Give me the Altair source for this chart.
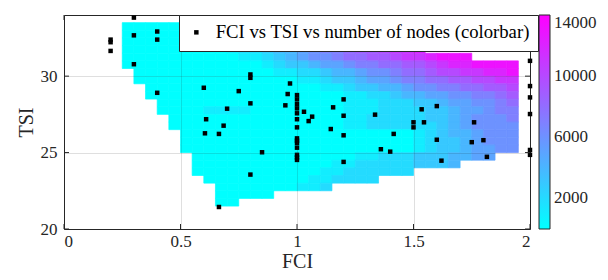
import altair as alt
import pandas as pd

FONT = "Liberation Serif"
AX = "#262626"

# ---- scatter data (FCI, TSI) ----
fci_pts = [0.30, 0.20, 0.20, 0.20, 0.30, 0.40, 0.40, 0.30, 0.40, 0.60, 0.75, 0.80, 0.80, 0.80,
           0.70, 0.61, 0.685, 0.605, 0.665, 0.85, 0.80, 0.665, 0.97, 0.96, 0.95,
           1.0, 1.0, 1.0, 1.0, 1.0, 1.0, 1.0, 1.0, 1.0, 1.0, 1.0, 1.0, 1.0, 1.0,
           1.03, 1.05, 1.065, 1.20, 1.155, 1.20, 1.335, 1.145, 1.20, 1.415, 1.36, 1.40,
           1.20, 1.50, 1.50, 1.545, 1.535, 1.60, 1.60, 1.62, 1.76, 1.75, 1.80, 1.815,
           2.0, 2.0, 2.0, 2.0, 2.0, 2.0]
tsi_pts = [33.83, 32.39, 32.22, 31.65, 32.67, 32.92, 32.39, 30.78, 28.91, 29.24, 29.02, 30.11, 29.89, 28.22,
           27.87, 27.18, 26.76, 26.26, 26.22, 25.02, 23.56, 21.44, 29.52, 28.83, 28.09,
           28.76, 28.48, 28.17, 27.89, 27.57, 27.18, 26.65, 25.93, 25.78, 25.63, 25.32, 24.85, 24.68, 24.52,
           27.67, 27.06, 27.35, 28.48, 27.96, 27.41, 27.48, 26.54, 26.13, 26.22, 25.22, 25.06,
           24.39, 26.98, 26.65, 26.98, 27.83, 28.04, 25.84, 24.47, 26.98, 25.68, 25.81, 24.72,
           31.0, 29.35, 28.61, 27.52, 25.17, 24.85]
series_name = "FCI vs TSI vs number of nodes (colorbar)"

# ---- filled contour: band index (thousands of nodes) per cell ----
# columns: FCI cells of 0.05 starting at 0; rows: TSI cells of 0.5 (lower edge given)
cell_w = 0.05
cell_h = 0.5
grid_tsi_low = [33.0, 32.5, 32.0, 31.5, 31.0, 30.5, 30.0, 29.5, 29.0, 28.5, 28.0, 27.5,
                27.0, 26.5, 26.0, 25.5, 25.0, 24.5, 24.0, 23.5, 23.0, 22.5, 22.0, 21.5]
grid_rows = [
    ".....00000..............................",
    ".....00000..............................",
    ".....00000..............................",
    ".....0000000001223445677899abbc.........",
    ".....00000000001123456678899abbcddd.....",
    ".....00000000000012334556778899abccdddd.",
    "......00000000000011223445667889aabbccd.",
    "......00000000000000112334556778899aabb.",
    ".......0000000000000001123344566778899a.",
    ".......00000000000000000112234455667789.",
    "........0000000000000000111222334556678.",
    "........0000111100000000111222233455677.",
    ".........000000000000000112222233456667.",
    ".........000000000000000112222223456666.",
    "..........00000000000000000000123445666.",
    "..........00000000000000000000123345666.",
    "..........00000000000000000000123345566.",
    "...........00000000000000112223334455...",
    "...........00000000000011222223334......",
    "...........0000000000011222222..........",
    "............000000000112222.............",
    ".............0000000112.................",
    ".............00000......................",
    ".............00.........................",
]
band_chars = "0123456789abcd"

x_ticks = [0, 0.5, 1, 1.5, 2]
y_ticks = [20, 25, 30]
cbar_ticks = [2000, 6000, 10000, 14000]

W, H = 466, 214

cells = []
for tlow, row in zip(grid_tsi_low, grid_rows):
    for j, ch in enumerate(row):
        if ch == ".":
            continue
        cells.append({"x": j * cell_w, "x2": (j + 1) * cell_w,
                      "y": tlow, "y2": tlow + cell_h,
                      "nodes": band_chars.index(ch) * 1000})
cells_df = pd.DataFrame(cells)
pts_df = pd.DataFrame({"x": fci_pts, "y": tsi_pts, "series": series_name})
xt_df = pd.DataFrame({"x": x_ticks})
yt_df = pd.DataFrame({"y": y_ticks})

xscale = alt.Scale(domain=[0, 2], nice=False, zero=False)
yscale = alt.Scale(domain=[20, 34], nice=False, zero=False)
cscale = alt.Scale(domain=[0, 14000], range=["#00ffff", "#ff00ff"], interpolate="rgb")

xaxis = alt.Axis(values=x_ticks, format="~g", grid=True, ticks=False, domain=False,
                 labelFont=FONT, labelFontSize=17, labelColor=AX, labelPadding=4,
                 title="FCI", titleFont=FONT, titleFontSize=20, titleFontWeight="normal",
                 titleColor=AX, titleX=W / 2, titleY=32, titleBaseline="middle",
                 gridColor=AX, gridOpacity=0.15, zindex=1)
yaxis = alt.Axis(values=y_ticks, grid=True, ticks=False, domain=False,
                 labelFont=FONT, labelFontSize=17, labelColor=AX, labelPadding=7,
                 title="TSI", titleFont=FONT, titleFontSize=20, titleFontWeight="normal",
                 titleColor=AX, titleX=-38, titleY=H / 2, titleAngle=-90,
                 titleBaseline="middle", titleAlign="center",
                 gridColor=AX, gridOpacity=0.15, zindex=1)

X = lambda f: alt.X(f, type="quantitative", scale=xscale, axis=xaxis, title="FCI")
Y = lambda f: alt.Y(f, type="quantitative", scale=yscale, axis=yaxis, title="TSI")

contour = alt.Chart(cells_df).mark_rect(strokeWidth=0).encode(
    x=X("x"), x2="x2", y=Y("y"), y2="y2",
    color=alt.Color("nodes:Q", scale=cscale, legend=alt.Legend(
        type="gradient", orient="none", legendX=475, legendY=0, direction="vertical",
        gradientLength=H, gradientThickness=11, title=None, values=cbar_ticks,
        format="d", labelFont=FONT, labelFontSize=17, labelColor=AX, labelOffset=4,
        labelBaseline="middle", labelOverlap=False,
        gradientStrokeColor=AX, gradientStrokeWidth=1, padding=0, zindex=3)),
)
seams = alt.Chart(cells_df).mark_rect(fillOpacity=0, strokeWidth=0.7).encode(
    x=X("x"), x2="x2", y=Y("y"), y2="y2",
    stroke=alt.Stroke("nodes:Q", scale=cscale, legend=None),
)

points = alt.Chart(pts_df).mark_point(filled=True, size=20, opacity=1, color="black",
                                      strokeWidth=0).encode(
    x=X("x"), y=Y("y"),
    shape=alt.Shape("series:N", scale=alt.Scale(range=["square"]), legend=alt.Legend(
        orient="none", legendX=115, legendY=0, title=None, fillColor="white",
        strokeColor=AX, padding=8, labelFont=FONT, labelFontSize=18.7, labelColor="black",
        labelLimit=500, symbolSize=20, symbolFillColor="black", symbolStrokeWidth=0,
        labelOffset=10, zindex=3)),
)

tick_b = alt.Chart(xt_df).mark_rule(color=AX).encode(x=X("x"), y=alt.value(H), y2=alt.value(H - 5))
tick_t = alt.Chart(xt_df).mark_rule(color=AX).encode(x=X("x"), y=alt.value(0), y2=alt.value(5))
tick_l = alt.Chart(yt_df).mark_rule(color=AX).encode(y=Y("y"), x=alt.value(0), x2=alt.value(5))
tick_r = alt.Chart(yt_df).mark_rule(color=AX).encode(y=Y("y"), x=alt.value(W), x2=alt.value(W - 5))

chart = alt.layer(contour, seams, points, tick_b, tick_t, tick_l, tick_r).properties(
    width=W, height=H, autosize=alt.AutoSizeParams(type="none"),
    padding={"left": 56, "top": 7, "right": 70, "bottom": 43},
    background="white",
).resolve_legend(color="independent", stroke="independent").configure_view(
    stroke=AX, strokeWidth=1
).configure_legend(labelFont=FONT)

chart.save("out.html", embed_options={"renderer": "svg", "actions": False})
